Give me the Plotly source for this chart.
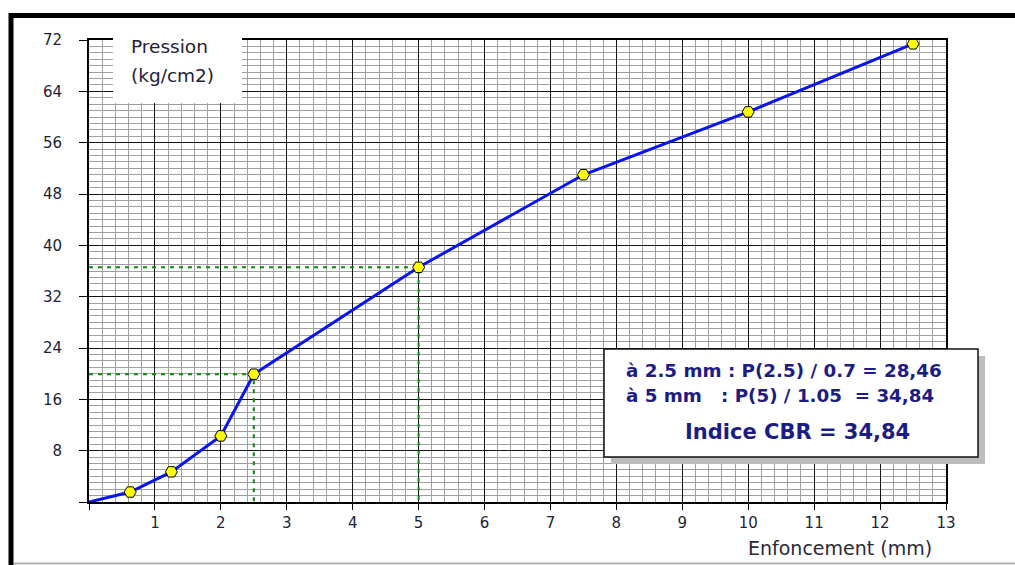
import plotly.graph_objects as go

# Data
enfoncement = [0, 0.625, 1.25, 2, 2.5, 5, 7.5, 10, 12.5]
pression = [0, 1.55, 4.7, 10.3, 19.92, 36.58, 51.0, 60.8, 71.4]
x_ticks = list(range(0, 14))
x_ticktext = [""] + [str(v) for v in range(1, 14)]
y_ticks = list(range(0, 73, 8))
y_ticktext = [""] + [str(v) for v in range(8, 73, 8)]
p25 = pression[enfoncement.index(2.5)]
p5 = pression[enfoncement.index(5)]
box_lines = [
    "à 2.5 mm : P(2.5) / 0.7 = 28,46",
    "à 5 mm\u00a0\u00a0\u00a0: P(5) / 1.05\u00a0\u00a0= 34,84",
]
cbr_text = "Indice CBR = 34,84"

W, H = 1015, 565
L, R, T, B = 89, 946, 40, 502

def px(x):
    return (x - L) / (R - L)

def py(y):
    return (B - y) / (B - T)

fig = go.Figure()

green = dict(color="#0a8a0a", width=2, dash="4px,5px")
fig.add_trace(go.Scatter(x=[0, 2.5, 2.5], y=[p25, p25, 0], mode="lines",
                         line=green, hoverinfo="skip", showlegend=False))
fig.add_trace(go.Scatter(x=[0, 5, 5], y=[p5, p5, 0], mode="lines",
                         line=green, hoverinfo="skip", showlegend=False))
fig.add_trace(go.Scatter(x=enfoncement, y=pression, mode="lines",
                         line=dict(color="#0a14f0", width=3), showlegend=False))
fig.add_trace(go.Scatter(x=enfoncement[1:], y=pression[1:], mode="markers",
                         marker=dict(symbol="hexagon2", size=12, color="#ffff00",
                                     line=dict(color="#000000", width=1)),
                         showlegend=False))

tickfont = dict(family="DejaVu Sans", size=15, color="#1e1e36")
fig.update_xaxes(range=[0, 13], tickmode="array", tickvals=x_ticks, ticktext=x_ticktext,
                 showgrid=True, gridcolor="#111111", gridwidth=1,
                 minor=dict(tickmode="linear", tick0=0, dtick=0.2, showgrid=True,
                            gridcolor="#a0a0a0", gridwidth=1),
                 showline=True, linecolor="#000000", linewidth=2, mirror=True,
                 ticks="outside", ticklen=6, tickcolor="#000000", tickfont=tickfont,
                 zeroline=False, fixedrange=True)
fig.update_yaxes(range=[0, 72], tickmode="array", tickvals=y_ticks, ticktext=y_ticktext,
                 showgrid=True, gridcolor="#111111", gridwidth=1,
                 minor=dict(tickmode="linear", tick0=0, dtick=1, showgrid=True,
                            gridcolor="#a0a0a0", gridwidth=1),
                 showline=True, linecolor="#000000", linewidth=2, mirror=True,
                 ticks="outside", ticklen=8, tickcolor="#000000", tickfont=tickfont,
                 ticklabelstandoff=14, zeroline=False, fixedrange=True)

shapes = [
    # white box behind the y title
    dict(type="rect", xref="paper", yref="paper", x0=px(113), x1=px(242), y0=py(103), y1=py(37),
         fillcolor="#ffffff", line=dict(width=0), layer="above"),
    # shadow of info box
    dict(type="rect", xref="paper", yref="paper", x0=px(611), x1=px(985), y0=py(464), y1=py(356),
         fillcolor="#bdbdbd", line=dict(width=0), layer="above"),
    # info box
    dict(type="rect", xref="paper", yref="paper", x0=px(604), x1=px(978), y0=py(457), y1=py(349),
         fillcolor="#ffffff", line=dict(color="#111111", width=1.5), layer="above"),
    # outer frame
    dict(type="line", xref="paper", yref="paper", x0=px(9), x1=px(1030), y0=py(15.5), y1=py(15.5),
         line=dict(color="#000000", width=5), layer="above"),
    dict(type="line", xref="paper", yref="paper", x0=px(11), x1=px(11), y0=py(13), y1=py(580),
         line=dict(color="#000000", width=5), layer="above"),
    dict(type="line", xref="paper", yref="paper", x0=px(14), x1=px(1030), y0=py(563.5), y1=py(563.5),
         line=dict(color="#b0b0b0", width=2), layer="above"),
]

navy = "#1c1c85"
annotations = [
    dict(text="Pression", xref="paper", yref="paper", x=px(129), y=py(47),
         xanchor="left", yanchor="middle", showarrow=False,
         font=dict(family="DejaVu Sans", size=18.5, color="#22223a")),
    dict(text="(kg/cm2)", xref="paper", yref="paper", x=px(129), y=py(75),
         xanchor="left", yanchor="middle", showarrow=False,
         font=dict(family="DejaVu Sans", size=18.5, color="#22223a")),
    dict(text="Enfoncement (mm)", xref="paper", yref="paper", x=px(840), y=py(548),
         xanchor="center", yanchor="middle", showarrow=False,
         font=dict(family="DejaVu Sans", size=19, color="#2a2a36")),
    dict(text="<b>" + box_lines[0] + "</b>", xref="paper", yref="paper", x=px(624), y=py(370),
         xanchor="left", yanchor="middle", showarrow=False,
         font=dict(family="DejaVu Sans", size=18.3, color=navy)),
    dict(text="<b>" + box_lines[1] + "</b>", xref="paper", yref="paper", x=px(624), y=py(395),
         xanchor="left", yanchor="middle", showarrow=False,
         font=dict(family="DejaVu Sans", size=18.3, color=navy)),
    dict(text="<b>" + cbr_text + "</b>", xref="paper", yref="paper", x=px(797), y=py(432),
         xanchor="center", yanchor="middle", showarrow=False,
         font=dict(family="DejaVu Sans", size=21, color=navy)),
]

fig.update_layout(width=W, height=H, autosize=False,
                  margin=dict(l=L, r=W - R, t=T, b=H - B, pad=0),
                  paper_bgcolor="#ffffff", plot_bgcolor="#ffffff",
                  shapes=shapes, annotations=annotations, showlegend=False)

fig.write_html("out.html", config={"displayModeBar": False},
               post_script="document.body.style.margin='0px';document.body.style.overflow='hidden';")
